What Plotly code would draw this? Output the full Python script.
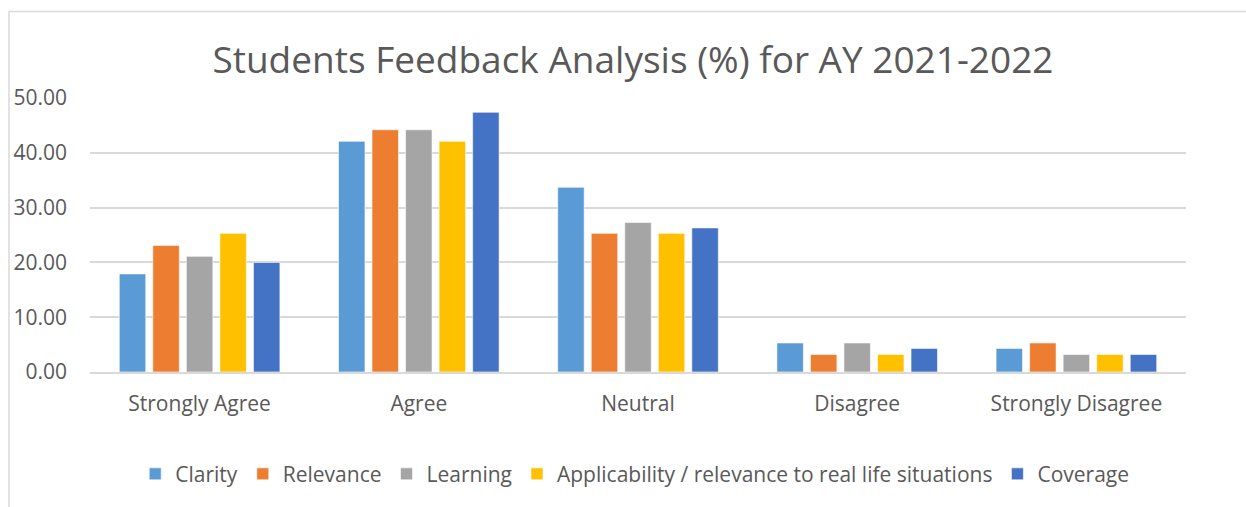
import plotly.graph_objects as go

categories = ["Strongly Agree", "Agree", "Neutral", "Disagree", "Strongly Disagree"]
series_names = [
    "Clarity",
    "Relevance",
    "Learning",
    "Applicability / relevance to real life situations",
    "Coverage",
]
clarity = [17.9, 42.1, 33.7, 5.3, 4.3]
relevance = [23.1, 44.2, 25.3, 3.2, 5.3]
learning = [21.1, 44.2, 27.3, 5.3, 3.2]
applicability = [25.3, 42.1, 25.3, 3.2, 3.2]
coverage = [20.0, 47.4, 26.3, 4.3, 3.2]
y_ticks = [0, 10, 20, 30, 40, 50]

colors = ["#5b9bd5", "#ed7d31", "#a5a5a5", "#ffc000", "#4472c4"]
text_color = "#595959"
font_family = "'Open Sans', sans-serif"

fig = go.Figure()
for name, values, color in zip(
    series_names, [clarity, relevance, learning, applicability, coverage], colors
):
    fig.add_trace(
        go.Bar(
            x=categories,
            y=values,
            name=name,
            marker_color=color,
            marker_line_color="rgba(255,255,255,0.6)",
            marker_line_width=1,
        )
    )

fig.update_layout(
    width=1246,
    height=507,
    barmode="group",
    bargap=0.235,
    bargroupgap=0.21,
    plot_bgcolor="white",
    paper_bgcolor="white",
    font=dict(family=font_family, color=text_color, size=21),
    title=dict(
        text="Students Feedback Analysis (%) for AY 2021-2022",
        x=0.508,
        xanchor="center",
        y=0.882,
        yanchor="middle",
        font=dict(size=37, color=text_color),
    ),
    margin=dict(l=90, r=60, t=98, b=135, pad=0),
    legend=dict(
        orientation="h",
        x=0.497,
        xanchor="center",
        y=-0.373,
        yanchor="middle",
        font=dict(size=21, color=text_color),
        itemwidth=30,
        traceorder="normal",
    ),
    showlegend=True,
)

fig.update_yaxes(
    range=[0, 50],
    tickvals=y_ticks,
    tickformat=".2f",
    showgrid=True,
    gridcolor="#d9d9d9",
    gridwidth=1.5,
    zeroline=False,
    showline=False,
    ticks="",
    ticklabelstandoff=22,
    tickfont=dict(size=21),
)
fig.update_xaxes(
    showline=True,
    linecolor="#d9d9d9",
    linewidth=1.5,
    ticks="",
    ticklabelstandoff=12,
    tickfont=dict(size=21),
)

# outer chart border (cropped on right and bottom in the reference)
fig.add_shape(
    type="rect",
    xref="paper",
    yref="paper",
    x0=-0.0739,
    x1=1.06,
    y0=-0.51,
    y1=1.316,
    line=dict(color="#d9d9d9", width=1.5),
    layer="below",
)

fig.write_html(
    "out.html",
    config={"displayModeBar": False},
    post_script="document.body.style.margin='0';",
)
